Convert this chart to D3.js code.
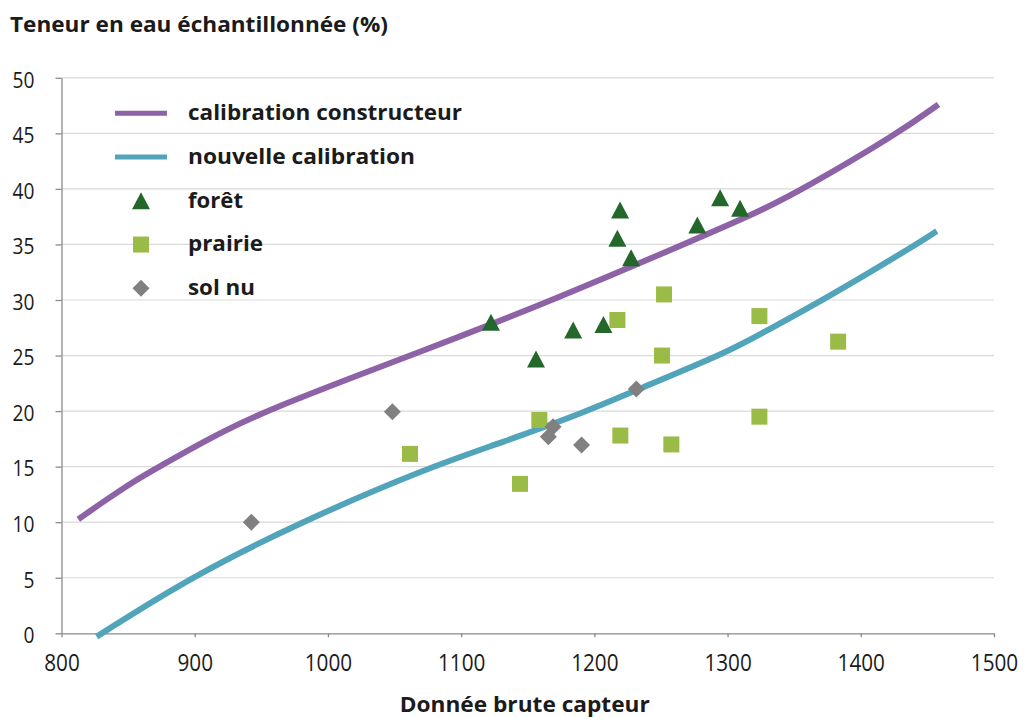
<!DOCTYPE html>
<html><head><meta charset="utf-8">
<script src="https://cdn.jsdelivr.net/npm/d3@7/dist/d3.min.js"></script>
<style>
body{margin:0;background:#fff}
svg{display:block}
text{font-family:"Open Sans","Noto Sans",sans-serif;fill:#1b1b1b}
</style>
</head><body>
<svg id="chart" width="1027" height="718"></svg>
<script>
// ---- data ----
const xTickValues = [800, 900, 1000, 1100, 1200, 1300, 1400, 1500];
const yTickValues = [0, 5, 10, 15, 20, 25, 30, 35, 40, 45, 50];
const seriesNames = ["calibration constructeur", "nouvelle calibration", "forêt", "prairie", "sol nu"];
const titleY = "Teneur en eau échantillonnée (%)";
const titleX = "Donnée brute capteur";

// calibration curves (raw sensor value, water content %)
const calibrationConstructeur = [[812.6,10.26],[831.4,11.85],[856.5,13.86],[873.4,15],[906.5,17.25],[931.5,18.75],[956.5,20.15],[1024,23.3],[1099,26.7],[1169,30],[1265,34.9],[1324,37.95],[1357,40],[1428,45],[1458.3,47.6]];
const nouvelleCalibration = [[826.4,-0.3],[896,5],[979,10],[1077,15],[1129,17.1],[1195,20],[1231.5,21.9],[1300,25.3],[1324,26.9],[1372,30],[1444.5,35.2],[1457,36.2]];

// sampled points
const foret = [[1122.4,28.0],[1156.2,24.7],[1184.1,27.3],[1206.8,27.8],[1217.3,35.55],[1219.3,38.1],[1227.6,33.8],[1277.3,36.75],[1294.4,39.2],[1309.4,38.25]];
const prairie = [[1061.6,16.15],[1144.2,13.45],[1158.7,19.2],[1217.3,28.2],[1252.3,30.5],[1250.8,25.0],[1219.5,17.8],[1257.8,17.0],[1323.9,28.55],[1323.9,19.5],[1383,26.25]];
const solNu = [[942.5,10.0],[1048.4,19.95],[1165.5,17.7],[1169.0,18.6],[1190.4,16.95],[1231.5,22.0]];

(function(){
// ---- layout & style ----
const svg = d3.select("#chart");
const mLeft = 61.5, mRight = 994, mTop = 77.8, mBottom = 633.3;
const x = d3.scaleLinear().domain([800, 1500]).range([mLeft, mRight]);
const y = d3.scaleLinear().domain([0, 50]).range([mBottom, mTop]);
const C = {purple:"#8d62a6", blue:"#52a4bb", green:"#23672b", lime:"#9bbb47", grey:"#808080", grid:"#d9d9d9", axis:"#8a8a8a"};

function fit(sel, target){
  sel.each(function(){
    const w = this.getComputedTextLength();
    const t = typeof target === "function" ? target(w) : target;
    d3.select(this).attr("textLength", t).attr("lengthAdjust", "spacingAndGlyphs");
  });
}

// gridlines
svg.append("g").selectAll("line").data(yTickValues.filter(d => d > 0)).join("line")
  .attr("x1", mLeft).attr("x2", mRight)
  .attr("y1", d => y(d)).attr("y2", d => y(d))
  .attr("stroke", C.grid).attr("stroke-width", 1.2);

// axes
const gy = svg.append("g").attr("transform", `translate(${mLeft},0)`)
  .call(d3.axisLeft(y).tickValues(yTickValues).tickFormat(d3.format("d")).tickSize(6).tickSizeOuter(0).tickPadding(21));
const gx = svg.append("g").attr("transform", `translate(0,${mBottom})`)
  .call(d3.axisBottom(x).tickValues(xTickValues).tickFormat(d3.format("d")).tickSize(4).tickSizeOuter(0).tickPadding(17));
[gy, gx].forEach(g => {
  g.select(".domain").attr("stroke", C.axis).attr("stroke-width", 1.3);
  g.selectAll(".tick line").attr("stroke", C.axis).attr("stroke-width", 1.3);
  g.selectAll(".tick text").attr("fill", "#1b1b1b").style("font-family", '"Open Sans",sans-serif');
});
gy.selectAll(".tick text").style("font-size", "22px").attr("dy", "0.42em");
fit(gy.selectAll(".tick text"), w => w * 0.87);
gx.selectAll(".tick text").style("font-size", "23px");
fit(gx.selectAll(".tick text"), w => w * 0.9);

// curves (B-spline smooths the reading noise of the sampled points)
const line = d3.line().x(d => x(d[0])).y(d => y(d[1])).curve(d3.curveBasis);
svg.append("path").datum(calibrationConstructeur).attr("d", line)
  .attr("fill", "none").attr("stroke", C.purple).attr("stroke-width", 6);
svg.append("path").datum(nouvelleCalibration).attr("d", line)
  .attr("fill", "none").attr("stroke", C.blue).attr("stroke-width", 6);

// markers
const triPath = "M0,-8.5L9,8.5L-9,8.5Z";
const sqPath = "M-8,-8H8V8H-8Z";
const diaPath = "M0,-8.5L8.5,0L0,8.5L-8.5,0Z";
function drawPoints(data, path, fill){
  svg.append("g").selectAll("path").data(data).join("path")
    .attr("d", path).attr("fill", fill)
    .attr("transform", d => `translate(${x(d[0])},${y(d[1])})`);
}
drawPoints(foret, triPath, C.green);
drawPoints(prairie, sqPath, C.lime);
drawPoints(solNu, diaPath, C.grey);

// legend
const legendWidths = [274, 227, 55, 75, 67];
const lg = svg.append("g");
const rowBase = i => 120 + 43.75 * i;
seriesNames.forEach((name, i) => {
  const cy = rowBase(i) - 6.7;
  if (i === 0 || i === 1) {
    lg.append("line").attr("x1", 115).attr("x2", 167).attr("y1", cy).attr("y2", cy)
      .attr("stroke", i === 0 ? C.purple : C.blue).attr("stroke-width", 5);
  } else {
    const p = i === 2 ? triPath : i === 3 ? sqPath : diaPath;
    const f = i === 2 ? C.green : i === 3 ? C.lime : C.grey;
    lg.append("path").attr("d", p).attr("fill", f).attr("transform", `translate(141,${cy})`);
  }
  const t = lg.append("text").attr("x", 188).attr("y", rowBase(i))
    .style("font-size", "22px").style("font-weight", 700).text(name);
  fit(t, legendWidths[i]);
});

// titles
const ty = svg.append("text").attr("x", 10).attr("y", 31.5)
  .style("font-size", "22px").style("font-weight", 700).text(titleY);
fit(ty, 378);
const tx = svg.append("text").attr("x", (mLeft + mRight) / 2 - 3).attr("y", 712)
  .attr("text-anchor", "middle").style("font-size", "22px").style("font-weight", 700).text(titleX);
fit(tx, 250);
})();
</script>
</body></html>
